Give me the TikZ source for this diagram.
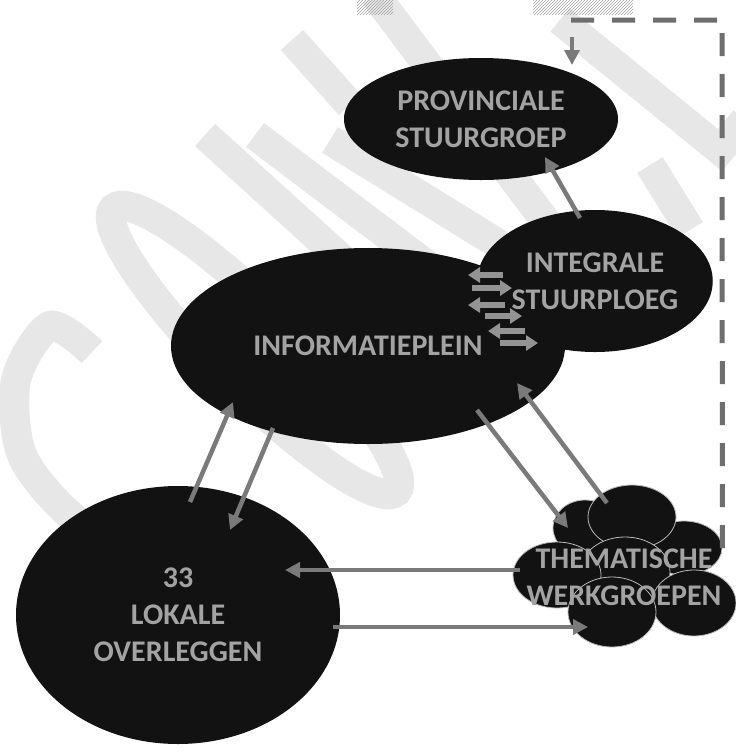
\documentclass[tikz,border=0pt]{standalone}
\usepackage{fontspec}
\setmainfont{Carlito}
\usetikzlibrary{shapes.geometric,arrows.meta,patterns,calc}
\definecolor{txtgray}{HTML}{A3A3A3}
\definecolor{arrgray}{HTML}{7A7A7A}
\definecolor{wmgray}{HTML}{E7E7E7}
\definecolor{blobfill}{HTML}{121212}
\begin{document}
\begin{tikzpicture}[x=1pt,y=-1pt,
  blob/.style={ellipse, fill=blobfill, inner sep=0pt, text=txtgray,
    font=\bfseries\fontsize{30}{37}\selectfont, align=center},
  puff/.style={ellipse, fill=blobfill, draw=gray!55, line width=0.8pt, inner sep=0pt},
  arr/.style={draw=arrgray, line width=4.5pt, -{Triangle[length=15pt,width=15pt]}},
  sarr/.style={draw=gray!85, line width=5.5pt, -{Triangle[length=12pt,width=15pt]}},
  dashline/.style={draw=arrgray!90!black, line width=5pt, dash pattern=on 23pt off 18pt},
  wm/.style={draw=wmgray, line width=30pt}
]
\useasboundingbox (0,0) rectangle (736,756);
\fill[white] (0,0) rectangle (736,756);

% watermark
\draw[wm] plot[smooth] coordinates {(92,352) (50,326) (16,380) (22,455) (70,515) (140,560)};
\draw[wm, rotate around={-45:(255,350)}] (255,350) ellipse [x radius=200, y radius=40];
\draw[wm] (375,-5) -- (420,55) -- (560,240);
\draw[wm] (292,40) -- (350,105);
\draw[wm] (205,135) -- (345,262);
\draw[wm] (255,135) -- (460,290);
\draw[wm] (330,140) -- (500,245);
\draw[wm] (560,20) -- (720,150) -- (745,120);
\draw[wm] (650,165) -- (690,230);
\fill[pattern=north east lines, pattern color=gray!70] (357,0) rectangle (393,14);
\fill[pattern=north east lines, pattern color=gray!70] (533,0) rectangle (633,14);

% main nodes
\node[blob, minimum width=394pt, minimum height=196pt] (info) at (368,346) {INFORMATIEPLEIN};
\node[blob, minimum width=216pt, minimum height=142pt] (isp) at (595,281) {INTEGRALE\\STUURPLOEG};
\node[blob, minimum width=274pt, minimum height=122pt] (prov) at (481,119) {PROVINCIALE\\STUURGROEP};
\node[blob, minimum width=324pt, minimum height=258pt] (lok) at (178,615) {33\\LOKALE\\OVERLEGGEN};

% cloud
\node[puff, minimum width=64pt, minimum height=56pt] (clt) at (585,528) {};
\node[puff, minimum width=76pt, minimum height=54pt] (crt) at (684,548) {};
\node[puff, minimum width=88pt, minimum height=64pt] (ct) at (632,517) {};
\node[puff, minimum width=90pt, minimum height=70pt] (cc) at (625,572) {};
\node[puff, minimum width=88pt, minimum height=66pt] (cl) at (557,575) {};
\node[puff, minimum width=84pt, minimum height=66pt] (crb) at (694,603) {};
\node[puff, minimum width=88pt, minimum height=70pt] (cb) at (612,612) {};
\node[text=txtgray, font=\bfseries\fontsize{30}{37}\selectfont, align=center] (them) at (624,577) {THEMATISCHE\\WERKGROEPEN};

% connectors
\draw[arr] ($(lok.center)+(12,-113)$) -- ($(info.center)+(-135,56)$);
\draw[arr] ($(info.center)+(-95,82)$) -- ($(lok.center)+(52,-85)$);
\draw[arr] ($(info.center)+(109,64)$) -- ($(them.center)+(-56,-49)$);
\draw[arr] ($(them.center)+(-17,-74)$) -- ($(info.center)+(149,37)$);
\draw[arr] ($(them.center)+(-104,-7)$) -- ($(lok.center)+(107,-45)$);
\draw[arr] ($(lok.center)+(155,12)$) -- ($(them.center)+(-36,50)$);
\draw[arr] ($(isp.center)+(-15,-63)$) -- ($(prov.center)+(64,38)$);

\draw[sarr] ($(isp.center)+(-92,-6)$) -- ($(info.center)+(100,-71)$);
\draw[sarr] ($(info.center)+(104,-58)$) -- ($(isp.center)+(-83,7)$);
\draw[sarr] ($(isp.center)+(-90,24)$) -- ($(info.center)+(100,-41)$);
\draw[sarr] ($(info.center)+(117,-30)$) -- ($(isp.center)+(-73,35)$);
\draw[sarr] ($(isp.center)+(-70,50)$) -- ($(info.center)+(120,-15)$);
\draw[sarr] ($(info.center)+(132,-3)$) -- ($(isp.center)+(-57,62)$);

\coordinate (corner) at (722,20);
\draw[dashline] (crt.east) -- (corner) -- ($(prov.center)+(87,-99)$);
\draw[arr] ($(prov.center)+(91,-82)$) -- ($(prov.center)+(91,-54)$);
\end{tikzpicture}
\end{document}
